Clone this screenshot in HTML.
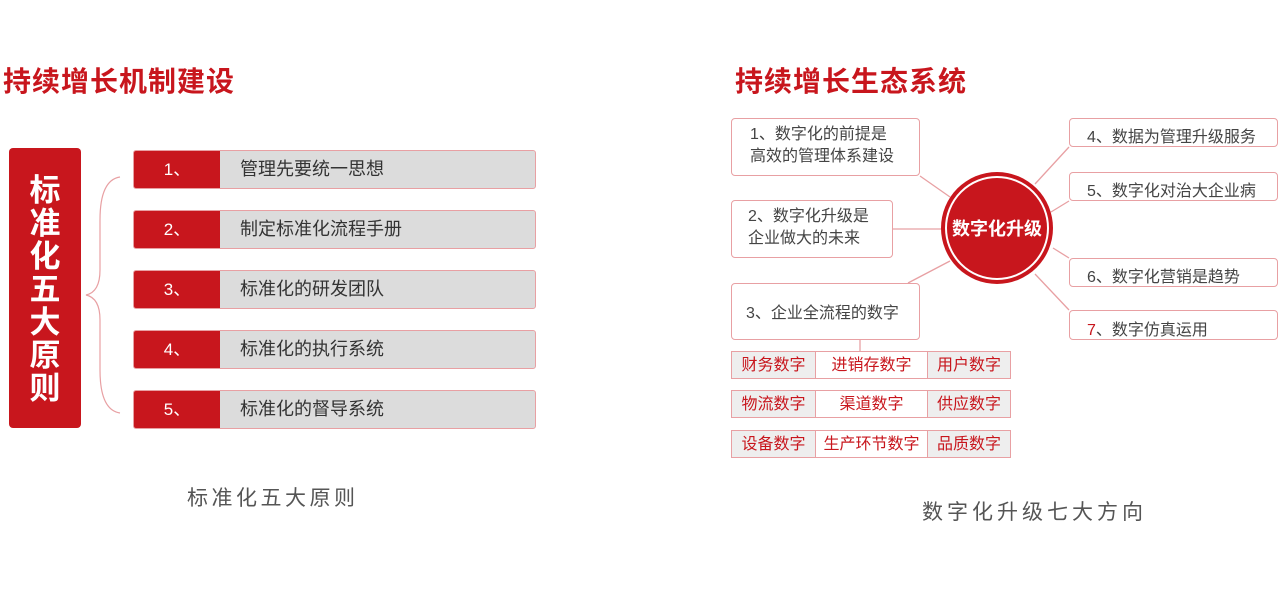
<!DOCTYPE html><html><head><meta charset="utf-8"><style>
body{margin:0;width:1280px;height:594px;background:#fff;position:relative;overflow:hidden;font-family:"Liberation Sans","Noto Sans CJK SC",sans-serif}
.a{position:absolute}
.t{font-size:28px;font-weight:bold;color:#c8161d;letter-spacing:1px}
.bar{position:absolute;left:133px;width:401px;height:37px;background:#dcdcdc;border:1px solid #e8a0a3;border-radius:3px;overflow:hidden}
.bar .n{position:absolute;left:0;top:0;width:86px;height:37px;background:#c8161d;color:#fff;font-size:17px;line-height:37px;text-align:center}
.bar .s{position:absolute;left:106px;top:0;line-height:37px;font-size:18px;color:#333}
.box{position:absolute;border:1px solid #e8a0a3;border-radius:4px;background:#fff;font-size:16px;color:#444;box-sizing:border-box}
.c{position:absolute;height:28px;line-height:28px;text-align:center;font-size:16px;color:#c8161d;border:1px solid #e8a0a3;box-sizing:border-box}
.g{background:#eee}
</style></head><body>
<div class="a t" style="left:3px;top:60px">持续增长机制建设</div>
<div class="a t" style="left:735px;top:60px">持续增长生态系统</div>
<div class="a" style="left:9px;top:148px;width:72px;height:280px;background:#c8161d;border-radius:4px;color:#fff;font-size:31px;font-weight:bold;text-align:center;line-height:33px;padding-top:26px;box-sizing:border-box">标<br>准<br>化<br>五<br>大<br>原<br>则</div>
<svg class="a" style="left:0;top:0" width="1280" height="594">
<path d="M120 177 Q100 180 100 220 L100 270 Q100 292 86 295 Q100 298 100 320 L100 370 Q100 410 120 413" fill="none" stroke="#e8a0a3" stroke-width="1.2"/>
<g stroke="#e8a0a3" stroke-width="1.3">
<line x1="920" y1="176" x2="950" y2="197"/><line x1="893" y1="229" x2="942" y2="229"/><line x1="908" y1="283" x2="950" y2="261"/>
<line x1="1069" y1="147" x2="1035" y2="184"/><line x1="1069" y1="201" x2="1051" y2="212"/><line x1="1069" y1="258" x2="1053" y2="248"/><line x1="1069" y1="310" x2="1035" y2="274"/>
<line x1="860" y1="340" x2="860" y2="351"/></g>
<circle cx="997" cy="228" r="56" fill="#c8161d"/><circle cx="997" cy="228" r="51" fill="none" stroke="#fff" stroke-width="2"/>
<text x="997" y="235" text-anchor="middle" fill="#fff" font-size="18" font-weight="bold" font-family="Liberation Sans,Noto Sans CJK SC,sans-serif">数字化升级</text>
</svg>
<div class="bar" style="top:150px"><div class="n">1、</div><div class="s">管理先要统一思想</div></div>
<div class="bar" style="top:210px"><div class="n">2、</div><div class="s">制定标准化流程手册</div></div>
<div class="bar" style="top:270px"><div class="n">3、</div><div class="s">标准化的研发团队</div></div>
<div class="bar" style="top:330px"><div class="n">4、</div><div class="s">标准化的执行系统</div></div>
<div class="bar" style="top:390px"><div class="n">5、</div><div class="s">标准化的督导系统</div></div>
<div class="a" style="left:187px;top:482px;font-size:21px;color:#555;letter-spacing:3.5px">标准化五大原则</div>
<div class="a" style="left:922px;top:496px;font-size:21px;color:#555;letter-spacing:4px">数字化升级七大方向</div>
<div class="box" style="left:731px;top:118px;width:189px;height:58px;padding:5px 0 0 18px;line-height:22px">1、数字化的前提是<br>高效的管理体系建设</div>
<div class="box" style="left:731px;top:200px;width:162px;height:58px;padding:5px 0 0 16px;line-height:22px">2、数字化升级是<br>企业做大的未来</div>
<div class="box" style="left:731px;top:283px;width:189px;height:57px;padding:15px 0 0 14px">3、企业全流程的数字</div>
<div class="box" style="left:1069px;top:118px;width:209px;height:29px;padding:4px 0 0 17px">4、数据为管理升级服务</div>
<div class="box" style="left:1069px;top:172px;width:209px;height:29px;padding:4px 0 0 17px">5、数字化对治大企业病</div>
<div class="box" style="left:1069px;top:258px;width:209px;height:29px;padding:4px 0 0 17px">6、数字化营销是趋势</div>
<div class="box" style="left:1069px;top:310px;width:209px;height:30px;padding:5px 0 0 17px"><span style="color:#c8161d">7</span>、数字仿真运用</div>
<div class="c g" style="left:731px;top:351px;width:85px">财务数字</div><div class="c" style="left:815px;top:351px;width:113px">进销存数字</div><div class="c g" style="left:927px;top:351px;width:84px">用户数字</div>
<div class="c g" style="left:731px;top:390px;width:85px">物流数字</div><div class="c" style="left:815px;top:390px;width:113px">渠道数字</div><div class="c g" style="left:927px;top:390px;width:84px">供应数字</div>
<div class="c g" style="left:731px;top:430px;width:85px">设备数字</div><div class="c" style="left:815px;top:430px;width:113px">生产环节数字</div><div class="c g" style="left:927px;top:430px;width:84px">品质数字</div>
</body></html>
